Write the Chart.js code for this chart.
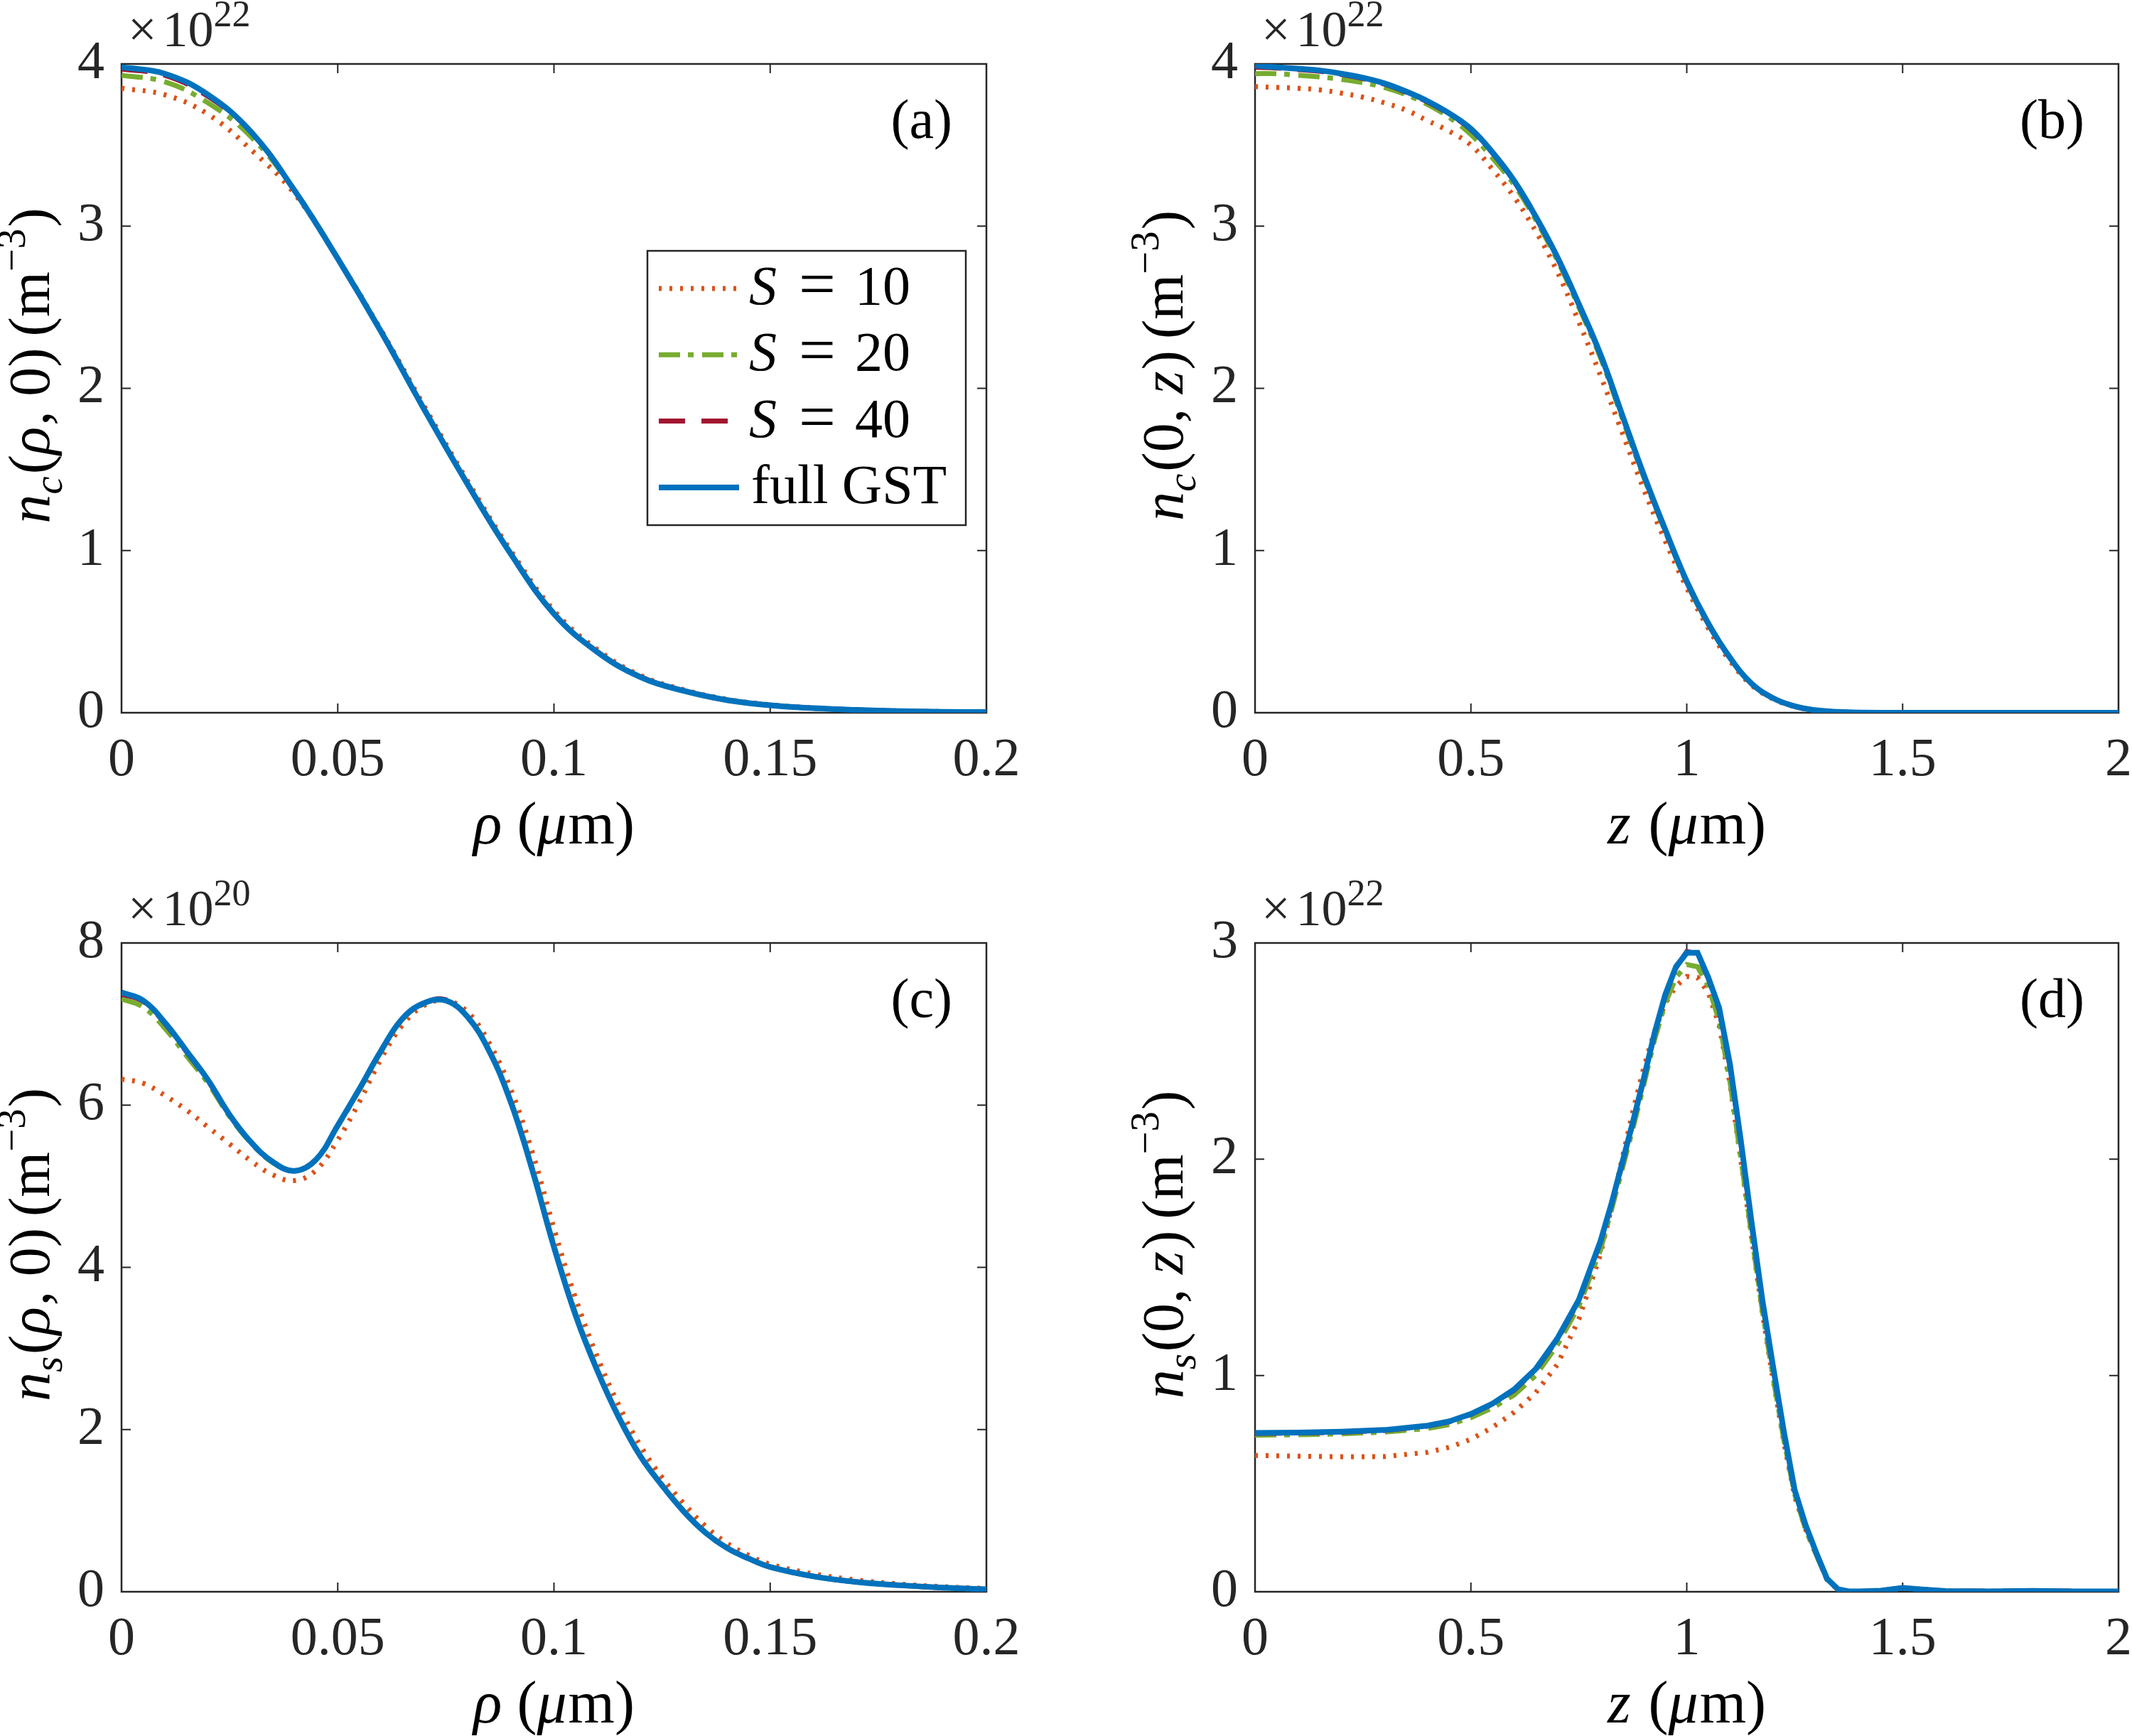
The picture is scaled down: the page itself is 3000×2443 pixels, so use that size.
<!DOCTYPE html>
<html>
<head>
<meta charset="utf-8">
<title>n_c and n_s profiles</title>
<script src="https://cdn.jsdelivr.net/npm/chart.js@4.4.1/dist/chart.umd.min.js"></script>
<style>
html, body { margin: 0; padding: 0; background: #fff; overflow: hidden; }
#page { position: relative; width: 3000px; height: 2443px; overflow: hidden; background: #fff; }
canvas { position: absolute; }
</style>
</head>
<body>
<div id="page">
  <canvas id="pa" width="1500" height="1222" style="left:0px;top:0px"></canvas>
  <canvas id="pb" width="1560" height="1222" style="left:1500px;top:0px"></canvas>
  <canvas id="pc" width="1500" height="1221" style="left:0px;top:1222px"></canvas>
  <canvas id="pd" width="1560" height="1221" style="left:1500px;top:1222px"></canvas>
</div>
<script>
// ---- data ----
// (a) n_c(rho,0), x10^22 m^-3
const rhoA = [0, 0.01, 0.02, 0.03, 0.04, 0.05, 0.06, 0.07, 0.08, 0.09, 0.10,
              0.11, 0.12, 0.13, 0.14, 0.15, 0.16, 0.17, 0.18, 0.19, 0.20];
const aS10  = [3.85, 3.81, 3.69, 3.47, 3.20, 2.80, 2.36, 1.89, 1.43, 1.00, 0.63,
               0.39, 0.23, 0.142, 0.083, 0.049, 0.030, 0.018, 0.011, 0.007, 0.004];
const aS20  = [3.93, 3.89, 3.76, 3.55, 3.22, 2.80, 2.35, 1.87, 1.41, 0.98, 0.61,
               0.377, 0.222, 0.136, 0.079, 0.047, 0.028, 0.017, 0.010, 0.006, 0.004];
const aS40  = [3.97, 3.93, 3.80, 3.58, 3.22, 2.80, 2.35, 1.87, 1.41, 0.98, 0.61,
               0.376, 0.221, 0.135, 0.078, 0.046, 0.028, 0.017, 0.010, 0.006, 0.004];
const aFull = [3.98, 3.94, 3.81, 3.58, 3.22, 2.80, 2.35, 1.87, 1.41, 0.98, 0.61,
               0.375, 0.22, 0.135, 0.078, 0.046, 0.028, 0.017, 0.010, 0.006, 0.004];

// (b) n_c(0,z), x10^22 m^-3
const zB = [0, 0.05, 0.1, 0.15, 0.2, 0.25, 0.3, 0.35, 0.4, 0.45, 0.5, 0.55, 0.6, 0.65, 0.7,
            0.75, 0.8, 0.85, 0.9, 0.95, 1.0, 1.05, 1.1, 1.15, 1.2, 1.25, 1.3, 1.35, 1.4,
            1.5, 1.6, 1.7, 1.8, 1.9, 2.0];
const bS10  = [3.86, 3.855, 3.85, 3.84, 3.82, 3.795, 3.76, 3.715, 3.65, 3.585, 3.50, 3.35, 3.18, 2.97, 2.72,
               2.41, 2.08, 1.73, 1.38, 1.06, 0.77, 0.52, 0.32, 0.17, 0.085, 0.038, 0.014, 0.005, 0.001,
               0, 0, 0, 0, 0, 0];
const bS20  = [3.94, 3.94, 3.93, 3.92, 3.905, 3.885, 3.855, 3.81, 3.75, 3.67, 3.565, 3.42, 3.255, 3.04, 2.79,
               2.50, 2.19, 1.82, 1.455, 1.12, 0.80, 0.545, 0.337, 0.178, 0.089, 0.040, 0.015, 0.005, 0.001,
               0, 0, 0, 0, 0, 0];
const bS40  = [3.98, 3.975, 3.965, 3.955, 3.935, 3.91, 3.875, 3.825, 3.765, 3.69, 3.595, 3.45, 3.275, 3.055, 2.805,
               2.515, 2.205, 1.835, 1.465, 1.125, 0.805, 0.548, 0.339, 0.179, 0.09, 0.04, 0.015, 0.005, 0.001,
               0, 0, 0, 0, 0, 0];
const bFull = [3.99, 3.98, 3.97, 3.96, 3.94, 3.915, 3.88, 3.83, 3.77, 3.695, 3.60, 3.455, 3.28, 3.06, 2.81,
               2.52, 2.21, 1.84, 1.47, 1.13, 0.81, 0.55, 0.34, 0.18, 0.09, 0.04, 0.015, 0.005, 0.001,
               0, 0, 0, 0, 0, 0];

// (c) n_s(rho,0), x10^20 m^-3
const rhoC = [0, 0.005, 0.01, 0.015, 0.02, 0.025, 0.03, 0.035, 0.04, 0.045, 0.05, 0.055, 0.06, 0.065,
              0.07, 0.075, 0.08, 0.085, 0.09, 0.095, 0.1, 0.105, 0.11, 0.115, 0.12, 0.125, 0.13, 0.135,
              0.14, 0.145, 0.15, 0.16, 0.17, 0.18, 0.19, 0.2];
const cS10  = [6.32, 6.27, 6.12, 5.94, 5.73, 5.52, 5.31, 5.14, 5.07, 5.20, 5.57, 6.04, 6.57, 6.99,
               7.23, 7.29, 7.15, 6.77, 6.20, 5.42, 4.48, 3.62, 2.90, 2.30, 1.80, 1.41, 1.09, 0.81,
               0.60, 0.45, 0.34, 0.22, 0.145, 0.095, 0.062, 0.04];
const cS20  = [7.31, 7.21, 6.95, 6.61, 6.27, 5.86, 5.53, 5.29, 5.19, 5.33, 5.74, 6.19, 6.66, 7.06,
               7.25, 7.29, 7.09, 6.68, 6.05, 5.22, 4.27, 3.43, 2.74, 2.16, 1.68, 1.32, 1.00, 0.735,
               0.545, 0.41, 0.307, 0.19, 0.12, 0.08, 0.05, 0.03];
const cS40  = [7.37, 7.28, 7.01, 6.66, 6.30, 5.88, 5.54, 5.30, 5.19, 5.33, 5.75, 6.20, 6.67, 7.07,
               7.26, 7.30, 7.09, 6.67, 6.04, 5.20, 4.25, 3.41, 2.73, 2.15, 1.67, 1.31, 0.99, 0.73,
               0.54, 0.41, 0.305, 0.19, 0.12, 0.08, 0.05, 0.03];
const cFull = [7.39, 7.29, 7.02, 6.67, 6.31, 5.88, 5.54, 5.30, 5.19, 5.33, 5.75, 6.20, 6.67, 7.07,
               7.26, 7.29, 7.09, 6.67, 6.04, 5.20, 4.25, 3.41, 2.73, 2.15, 1.67, 1.31, 0.99, 0.73,
               0.54, 0.41, 0.305, 0.19, 0.12, 0.08, 0.05, 0.03];

// (d) n_s(0,z), x10^22 m^-3
const zD = [0, 0.1, 0.2, 0.3, 0.4, 0.45, 0.5, 0.55, 0.6, 0.65, 0.7, 0.75, 0.8, 0.825, 0.85, 0.875,
            0.9, 0.925, 0.95, 0.975, 1.0, 1.025, 1.05, 1.075, 1.1, 1.125, 1.15, 1.175, 1.2, 1.225,
            1.25, 1.275, 1.3, 1.325, 1.35, 1.375, 1.4, 1.45, 1.5, 1.55, 1.6, 1.7, 1.8, 1.9, 2.0];
const dS10  = [0.630, 0.627, 0.624, 0.625, 0.645, 0.668, 0.705, 0.76, 0.83, 0.92, 1.05, 1.26, 1.56, 1.77, 2.00, 2.22,
               2.42, 2.59, 2.72, 2.80, 2.845, 2.84, 2.77, 2.62, 2.35, 2.00, 1.64, 1.29, 0.98, 0.69,
               0.44, 0.29, 0.17, 0.055, 0.010, 0.001, 0.001, 0.004, 0.016, 0.009, 0.003, 0.002, 0.003, 0.002, 0.002];
const dS20  = [0.724, 0.726, 0.730, 0.738, 0.755, 0.773, 0.805, 0.85, 0.91, 1.00, 1.14, 1.32, 1.58, 1.76, 1.95, 2.14,
               2.34, 2.55, 2.72, 2.84, 2.90, 2.89, 2.80, 2.64, 2.36, 2.01, 1.65, 1.30, 0.99, 0.70,
               0.45, 0.29, 0.17, 0.055, 0.011, 0.001, 0.002, 0.005, 0.017, 0.010, 0.003, 0.002, 0.004, 0.002, 0.002];
const dS40  = [0.732, 0.734, 0.738, 0.746, 0.766, 0.786, 0.820, 0.868, 0.932, 1.025, 1.165, 1.345, 1.615, 1.785, 1.975, 2.165,
               2.365, 2.575, 2.755, 2.885, 2.96, 2.95, 2.835, 2.69, 2.43, 2.08, 1.70, 1.34, 1.03, 0.735,
               0.465, 0.305, 0.178, 0.058, 0.012, 0.002, 0.002, 0.005, 0.018, 0.010, 0.003, 0.002, 0.004, 0.002, 0.002];
const dFull = [0.734, 0.736, 0.740, 0.748, 0.768, 0.788, 0.822, 0.87, 0.935, 1.03, 1.17, 1.35, 1.62, 1.79, 1.98, 2.17,
               2.37, 2.58, 2.76, 2.89, 2.955, 2.955, 2.84, 2.70, 2.44, 2.09, 1.71, 1.35, 1.04, 0.74,
               0.47, 0.31, 0.18, 0.06, 0.012, 0.002, 0.002, 0.005, 0.018, 0.010, 0.003, 0.002, 0.004, 0.002, 0.002];

// tick values / labels
const rhoTicks = [0, 0.05, 0.1, 0.15, 0.2];
const rhoTickLabels = ['0', '0.05', '0.1', '0.15', '0.2'];
const zTicks = [0, 0.5, 1, 1.5, 2];
const zTickLabels = ['0', '0.5', '1', '1.5', '2'];
const yTicks4 = [0, 1, 2, 3, 4];
const yTicks8 = [0, 2, 4, 6, 8];
const yTicks3 = [0, 1, 2, 3];

const seriesNames = ['S = 10', 'S = 20', 'S = 40', 'full GST'];

// ---- styling ----
const FONT = '"Liberation Serif", "Times New Roman", serif';
const AX = '#262626';
const XF = 84;   // x title font size
const YF = 82;   // y title font size
const colors = ['#D95319', '#77AC30', '#A2142F', '#0072BD'];
const dashes = [[4, 11], [30, 11, 8, 12], [37, 23], []];
const widths = [7, 7, 7, 8];

function pts(xs, ys) { return xs.map((x, i) => ({ x: x, y: ys[i] })); }

function makeDatasets(xs, lists, tension) {
  return lists.map((ys, i) => ({
    label: seriesNames[i],
    data: pts(xs, ys),
    borderColor: colors[i],
    borderWidth: widths[i],
    borderDash: dashes[i],
    borderCapStyle: 'butt',
    pointRadius: 0,
    fill: false,
    tension: tension,
    order: 4 - i
  }));
}

// rich text: segments {t, it, sc, gap}
function segFont(s, F) {
  const size = s.sc ? Math.round(F * 0.7) : F;
  return (s.it ? 'italic ' : '') + size + 'px ' + FONT;
}
function richWidth(ctx, segs, F) {
  let w = 0;
  segs.forEach(s => { ctx.font = segFont(s, F); w += ctx.measureText(s.t).width + (s.gap || 0); });
  return w;
}
function drawRich(ctx, segs, x, y, F, align) {
  let cx = align === 'center' ? x - richWidth(ctx, segs, F) / 2 : x;
  ctx.textAlign = 'left';
  ctx.textBaseline = 'alphabetic';
  segs.forEach(s => {
    ctx.font = segFont(s, F);
    let dy = 0;
    if (s.sc === 'sub') dy = F * 0.22;
    if (s.sc === 'sup') dy = -F * 0.42;
    ctx.fillText(s.t, cx, y + dy);
    cx += ctx.measureText(s.t).width + (s.gap || 0);
  });
}

const xRho = [{ t: 'ρ', it: 1 }, { t: ' (' }, { t: 'μ', it: 1, gap: 2 }, { t: 'm)' }];
const xZ = [{ t: 'z', it: 1, gap: 4 }, { t: ' (' }, { t: 'μ', it: 1, gap: 2 }, { t: 'm)' }];
const panelText = {
  pa: {
    x: xRho,
    y: [{ t: 'n', it: 1 }, { t: 'c', it: 1, sc: 'sub', gap: 3 }, { t: '(' }, { t: 'ρ', it: 1, gap: 2 }, { t: ', 0)', gap: 16 }, { t: '(m' }, { t: '−3', sc: 'sup', gap: 2 }, { t: ')' }],
    pow: '22', tag: '(a)', legend: true
  },
  pb: {
    x: xZ,
    y: [{ t: 'n', it: 1 }, { t: 'c', it: 1, sc: 'sub', gap: 3 }, { t: '(0, ' }, { t: 'z', it: 1, gap: 2 }, { t: ')', gap: 16 }, { t: '(m' }, { t: '−3', sc: 'sup', gap: 2 }, { t: ')' }],
    pow: '22', tag: '(b)'
  },
  pc: {
    x: xRho,
    y: [{ t: 'n', it: 1 }, { t: 's', it: 1, sc: 'sub', gap: 3 }, { t: '(' }, { t: 'ρ', it: 1, gap: 2 }, { t: ', 0)', gap: 16 }, { t: '(m' }, { t: '−3', sc: 'sup', gap: 2 }, { t: ')' }],
    pow: '20', tag: '(c)'
  },
  pd: {
    x: xZ,
    y: [{ t: 'n', it: 1 }, { t: 's', it: 1, sc: 'sub', gap: 3 }, { t: '(0, ' }, { t: 'z', it: 1, gap: 2 }, { t: ')', gap: 16 }, { t: '(m' }, { t: '−3', sc: 'sup', gap: 2 }, { t: ')' }],
    pow: '22', tag: '(d)'
  }
};

const matlabAxes = {
  id: 'matlabAxes',
  beforeDatasetsDraw(chart) {
    const ctx = chart.ctx, a = chart.chartArea;
    const xs = chart.scales.x, ys = chart.scales.y;
    ctx.save();
    ctx.strokeStyle = AX;
    ctx.lineWidth = 2.5;
    ctx.strokeRect(a.left, a.top, a.right - a.left, a.bottom - a.top);
    ctx.lineWidth = 2;
    ctx.beginPath();
    xs.ticks.forEach(t => {
      const p = xs.getPixelForValue(t.value);
      ctx.moveTo(p, a.bottom); ctx.lineTo(p, a.bottom - 13);
      ctx.moveTo(p, a.top); ctx.lineTo(p, a.top + 13);
    });
    ys.ticks.forEach(t => {
      const p = ys.getPixelForValue(t.value);
      ctx.moveTo(a.left, p); ctx.lineTo(a.left + 13, p);
      ctx.moveTo(a.right, p); ctx.lineTo(a.right - 13, p);
    });
    ctx.stroke();
    ctx.restore();
  },
  afterDraw(chart) {
    const ctx = chart.ctx, a = chart.chartArea;
    const info = panelText[chart.canvas.id];
    ctx.save();
    ctx.fillStyle = '#000';
    // x title
    drawRich(ctx, info.x, (a.left + a.right) / 2, a.bottom + 184, XF, 'center');
    // y title (sits a little above the axis centre, as in the figure)
    ctx.save();
    ctx.translate(a.left - 102, (a.top + a.bottom) / 2 - 32);
    ctx.rotate(-Math.PI / 2);
    drawRich(ctx, info.y, 0, 0, YF, 'center');
    ctx.restore();
    // exponent label
    ctx.fillStyle = AX;
    ctx.textAlign = 'left';
    ctx.textBaseline = 'alphabetic';
    ctx.font = '72px ' + FONT;
    let ex = a.left + 9;
    ctx.fillText('×', ex, a.top - 25);
    ex += ctx.measureText('×').width + 8;
    ctx.fillText('10', ex, a.top - 25);
    ex += ctx.measureText('10').width;
    ctx.font = '52px ' + FONT;
    ctx.fillText(info.pow, ex, a.top - 53);
    // panel tag
    ctx.fillStyle = '#000';
    ctx.font = '78px ' + FONT;
    ctx.textAlign = 'right';
    ctx.fillText(info.tag, a.right - 48, a.top + 104);
    // legend
    if (info.legend) {
      const lx = a.right - 477, ly = a.top + 263, lw = 448, lh = 386;
      ctx.fillStyle = '#fff';
      ctx.fillRect(lx, ly, lw, lh);
      ctx.strokeStyle = AX;
      ctx.lineWidth = 2.5;
      ctx.strokeRect(lx, ly, lw, lh);
      chart.data.datasets.forEach((ds, i) => {
        const ry = ly + 53 + i * 93.3;
        ctx.save();
        ctx.strokeStyle = ds.borderColor;
        ctx.lineWidth = ds.borderWidth;
        ctx.setLineDash(ds.borderDash);
        ctx.lineCap = 'butt';
        ctx.beginPath();
        ctx.moveTo(lx + 16, ry); ctx.lineTo(lx + 129, ry);
        ctx.stroke();
        ctx.restore();
        ctx.fillStyle = '#000';
        ctx.textAlign = 'left';
        ctx.textBaseline = 'alphabetic';
        const by = ry + 22;
        if (ds.label === 'full GST') {
          ctx.font = '78px ' + FONT;
          ctx.fillText('full GST', lx + 146, by);
        } else {
          ctx.font = 'italic 78px ' + FONT;
          ctx.fillText('S', lx + 143, by);
          ctx.font = '92px ' + FONT;
          ctx.fillText('=', lx + 213, by + 2);
          ctx.font = '78px ' + FONT;
          ctx.fillText(ds.label.split('= ')[1], lx + 292, by);
        }
      });
    }
    ctx.restore();
  }
};

function makeChart(id, xs, lists, tension, xMax, xTickVals, xTickLabels, yMax, yTickVals, geom) {
  return new Chart(document.getElementById(id), {
    type: 'line',
    data: { datasets: makeDatasets(xs, lists, tension) },
    options: {
      responsive: false,
      animation: false,
      devicePixelRatio: 1,
      layout: { padding: { top: geom.top, right: geom.right, left: 0, bottom: 0 } },
      plugins: { legend: { display: false }, tooltip: { enabled: false } },
      scales: {
        x: {
          type: 'linear', min: 0, max: xMax,
          afterFit: s => { s.height = geom.xh; },
          afterBuildTicks: s => { s.ticks = xTickVals.map(v => ({ value: v })); },
          ticks: {
            autoSkip: false, maxRotation: 0, minRotation: 0, padding: 22,
            font: { family: FONT, size: 76 }, color: AX,
            callback: (v, i) => xTickLabels[i]
          },
          grid: { display: false, drawTicks: false },
          border: { display: false }
        },
        y: {
          type: 'linear', min: 0, max: yMax,
          afterFit: s => { s.width = geom.yw; },
          afterBuildTicks: s => { s.ticks = yTickVals.map(v => ({ value: v })); },
          ticks: {
            autoSkip: false, padding: 24,
            font: { family: FONT, size: 76 }, color: AX,
            callback: (v, i) => String(yTickVals[i])
          },
          grid: { display: false, drawTicks: false },
          border: { display: false }
        }
      }
    },
    plugins: [matlabAxes]
  });
}

const geomTopL = { top: 90, right: 112, yw: 171, xh: 219 };
const geomTopR = { top: 90, right: 79, yw: 266, xh: 219 };
const geomBotL = { top: 105, right: 112, yw: 171, xh: 203 };
const geomBotR = { top: 105, right: 79, yw: 266, xh: 203 };

makeChart('pa', rhoA, [aS10, aS20, aS40, aFull], 0.4, 0.2, rhoTicks, rhoTickLabels, 4, yTicks4, geomTopL);
makeChart('pb', zB, [bS10, bS20, bS40, bFull], 0.4, 2, zTicks, zTickLabels, 4, yTicks4, geomTopR);
makeChart('pc', rhoC, [cS10, cS20, cS40, cFull], 0.4, 0.2, rhoTicks, rhoTickLabels, 8, yTicks8, geomBotL);
makeChart('pd', zD, [dS10, dS20, dS40, dFull], 0, 2, zTicks, zTickLabels, 3, yTicks3, geomBotR);
</script>
</body>
</html>
